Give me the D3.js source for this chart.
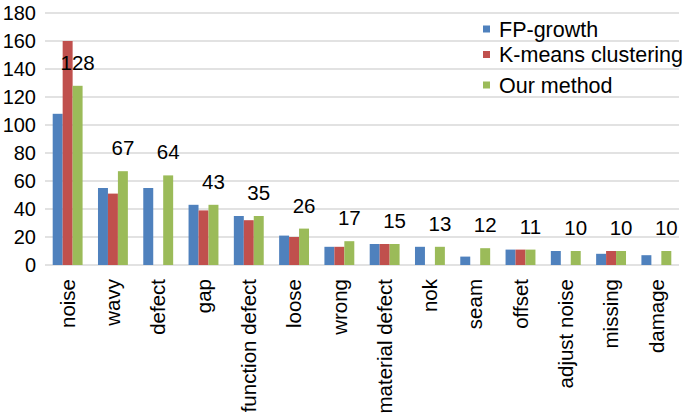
<!DOCTYPE html>
<html>
<head>
<meta charset="utf-8">
<script src="https://cdn.jsdelivr.net/npm/d3@7"></script>
<style>
  body { margin: 0; background: #fff; }
  text { font-family: "Liberation Sans", Arial, sans-serif; fill: #000; }
</style>
</head>
<body>
<script>
const categories = ["noise", "wavy", "defect", "gap", "function defect", "loose", "wrong",
  "material defect", "nok", "seam", "offset", "adjust noise", "missing", "damage"];
const seriesNames = ["FP-growth", "K-means clustering", "Our method"];
const fpGrowth = [108, 55, 55, 43, 35, 21, 13, 15, 13, 6, 11, 10, 8, 7];
const kMeans = [160, 51, null, 39, 32, 20, 13, 15, null, null, 11, null, 10, null];
const ourMethod = [128, 67, 64, 43, 35, 26, 17, 15, 13, 12, 11, 10, 10, 10];
const yTicks = [0, 20, 40, 60, 80, 100, 120, 140, 160, 180];
const colors = ["#4f81bd", "#c0504d", "#9bbb59"];

const w = 685;
const h = 417;
const m = { t: 13, r: 6, b: 152, l: 45 };

const svg = d3.select("body").append("svg").attr("width", w).attr("height", h);

const series = [fpGrowth, kMeans, ourMethod];
const rows = categories.map((c, i) => ({ cat: c, vals: series.map((s) => s[i]) }));

const x0 = d3.scaleBand().domain(categories).range([m.l, w - m.r])
  .paddingInner(0.34).paddingOuter(0.17);
const x1 = d3.scaleBand().domain(d3.range(seriesNames.length)).range([0, x0.bandwidth()]);
const y = d3.scaleLinear().domain([0, 180]).range([h - m.b, m.t]);

// grid lines
svg.append("g")
  .selectAll("line")
  .data(yTicks)
  .enter()
  .append("line")
  .attr("x1", m.l)
  .attr("x2", w - m.r)
  .attr("y1", (d) => y(d))
  .attr("y2", (d) => y(d))
  .attr("stroke", "#d9d9d9")
  .attr("stroke-width", 1.5);

// y axis labels
const yAxis = d3.axisLeft(y).tickValues(yTicks).tickSize(0).tickPadding(8);
const yAG = svg.append("g").attr("transform", `translate(${m.l - 1}, 0)`).call(yAxis);
yAG.select(".domain").remove();
yAG.selectAll("text").attr("font-size", 20).attr("fill", "#000")
  .attr("font-family", "Liberation Sans, Arial, sans-serif");

// bars
const groups = svg.append("g")
  .selectAll("g")
  .data(rows)
  .enter()
  .append("g")
  .attr("transform", (d) => `translate(${x0(d.cat)}, 0)`);

groups.selectAll("rect")
  .data((d) => d.vals.map((v, k) => ({ v, k })).filter((e) => e.v != null))
  .enter()
  .append("rect")
  .attr("x", (d) => x1(d.k))
  .attr("width", x1.bandwidth())
  .attr("y", (d) => y(d.v))
  .attr("height", (d) => y(0) - y(d.v))
  .attr("fill", (d) => colors[d.k]);

// data labels for our method
groups.append("text")
  .attr("x", x1(2) + x1.bandwidth() / 2)
  .attr("y", (d) => y(d.vals[2]) - 16)
  .attr("text-anchor", "middle")
  .attr("font-size", 20.5)
  .text((d) => d.vals[2]);

// x axis labels
const xAxis = d3.axisBottom(x0).tickSize(0).tickPadding(0);
const xAG = svg.append("g").attr("transform", `translate(0, ${y(0)})`).call(xAxis);
xAG.select(".domain").remove();
xAG.selectAll("text")
  .attr("font-size", 20.5)
  .attr("fill", "#000")
  .attr("font-family", "Liberation Sans, Arial, sans-serif")
  .attr("transform", "rotate(-90)")
  .attr("text-anchor", "end")
  .attr("x", -14)
  .attr("y", 0)
  .attr("dy", "0.35em");

// legend
const legendY = [29, 54.5, 85];
const legend = svg.append("g")
  .selectAll("g")
  .data(seriesNames)
  .enter()
  .append("g")
  .attr("transform", (d, i) => `translate(483, ${legendY[i]})`);
legend.append("rect")
  .attr("x", 0)
  .attr("y", -3.5)
  .attr("width", 7)
  .attr("height", 7)
  .attr("fill", (d, i) => colors[i]);
legend.append("text")
  .attr("x", 16)
  .attr("y", 0)
  .attr("dy", "0.35em")
  .attr("font-size", 21.5)
  .text((d) => d);
</script>
</body>
</html>
